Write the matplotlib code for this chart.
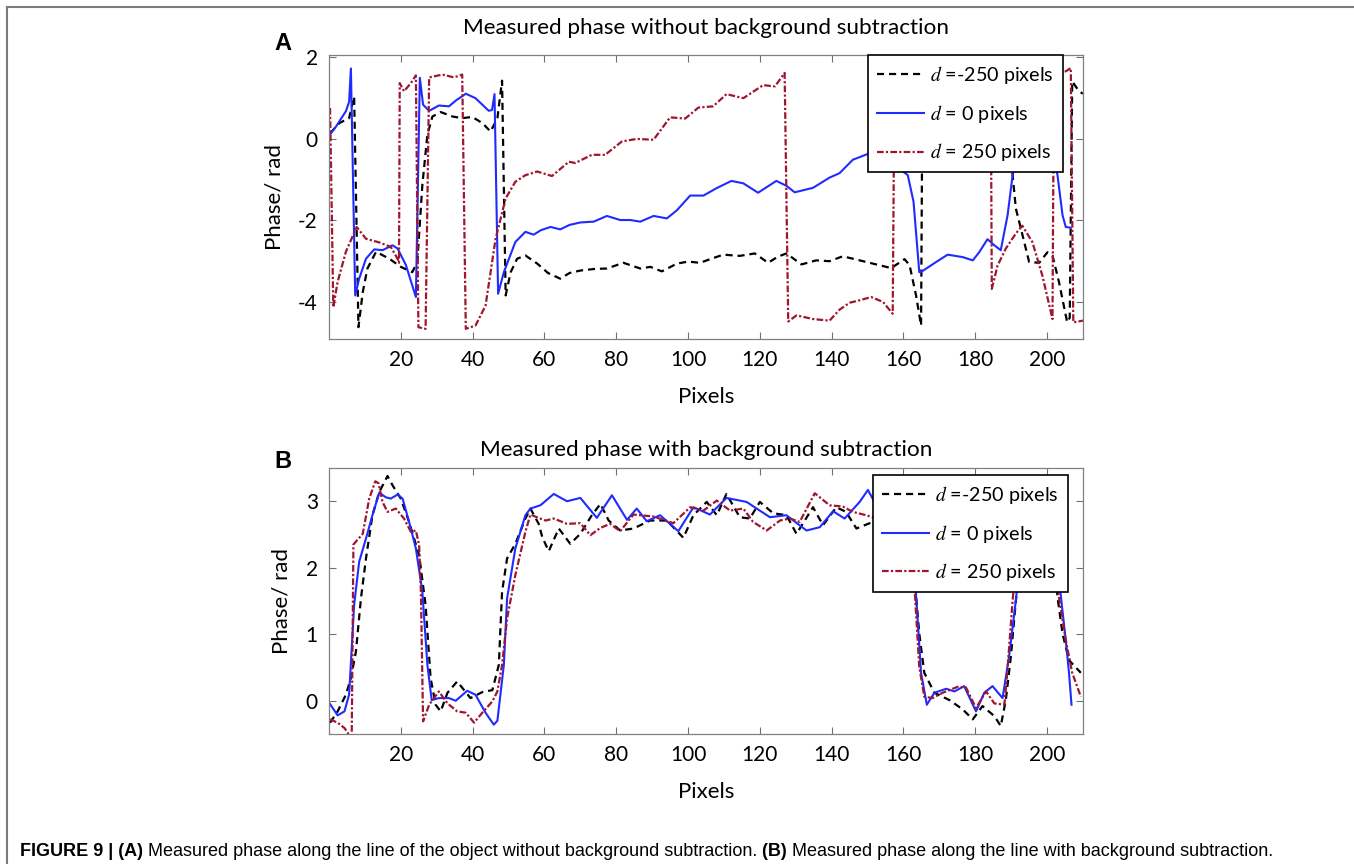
import numpy as np
import matplotlib.pyplot as plt
from matplotlib.lines import Line2D
from matplotlib import font_manager

plt.rcParams['font.family'] = ['Lato', 'DejaVu Sans']
plt.rcParams['mathtext.fontset'] = 'stix'
plt.rcParams['axes.unicode_minus'] = False

# ---- panel A: phase without background subtraction (pixel, rad) ----
a_m250 = [(0.3, 0.13), (2.9, 0.38), (5.6, 0.5), (7.0, 1.03), (8.2, -4.63), (9.4, -3.77),
          (10.7, -3.19), (13.1, -2.78), (16.8, -2.95), (20.0, -3.15), (23.2, -3.28),
          (24.6, -3.03), (26.0, -1.14), (27.4, 0.09), (28.8, 0.54), (31.1, 0.65),
          (34.4, 0.54), (37.1, 0.5), (39.9, 0.53), (42.7, 0.38), (45.0, 0.17), (46.9, 0.5),
          (48.2, 1.42), (49.2, -3.85), (50.6, -3.28), (52.4, -2.95), (54.7, -2.87),
          (58, -3.07), (61, -3.3), (64.4, -3.44), (67, -3.3), (70, -3.24), (74, -3.2),
          (77.4, -3.19), (82, -3.05), (86.7, -3.19), (89.5, -3.15), (92.7, -3.26),
          (96.9, -3.07), (100, -3.02), (103.3, -3.05), (106.5, -2.95), (109.8, -2.85),
          (114.4, -2.88), (118.6, -2.82), (122.3, -3.05), (125, -2.9), (127.4, -2.82),
          (131.6, -3.09), (135.7, -2.99), (139.4, -3.01), (143.1, -2.89), (147.8, -2.99),
          (151.5, -3.07), (156.6, -3.18), (160.3, -2.96), (161.7, -3.11), (163.5, -3.85),
          (164.9, -4.59), (165.3, 1.6), (167, 0.8), (172, 0.6), (178, 0.5), (184, 0.4),
          (188, 0.2), (189.5, -0.4), (190.4, -0.9), (191.3, -1.72), (192.7, -2.21),
          (195, -3.03), (197.8, -3.05), (200.1, -2.79), (201.5, -2.87), (203.3, -3.52),
          (205.6, -4.51), (206.3, -4.4), (207, 1.40), (208.9, 1.16), (210, 1.1)]

a_0 = [(0.3, 0.1), (2, 0.3), (4.7, 0.67), (5.6, 0.9), (6.1, 1.72), (7.3, -3.85), (8.4, -3.44),
       (10.3, -2.95), (12.6, -2.72), (14.9, -2.74), (17.7, -2.62), (19.1, -2.70), (21.4, -3.1),
       (24.2, -3.89), (25.3, 1.49), (26.2, 0.83), (27.9, 0.68), (30.6, 0.81), (33.4, 0.79),
       (35.3, 0.93), (38.1, 1.1), (40.8, 0.99), (44.5, 0.68), (45.4, 0.7), (46.1, 1.09),
       (47.1, -3.81), (48.7, -3.28), (51.9, -2.54), (54.7, -2.29), (57.0, -2.36), (59, -2.25),
       (61.7, -2.17), (64.4, -2.23), (67, -2.12), (70, -2.06), (73.7, -2.04), (77.4, -1.90),
       (81.1, -2.0), (83.9, -2.0), (86.7, -2.04), (90.4, -1.90), (94.1, -1.96), (96.9, -1.76),
       (100.6, -1.40), (104.3, -1.40), (107.9, -1.22), (112.1, -1.04), (115.4, -1.10),
       (119.5, -1.33), (124.6, -1.04), (127.4, -1.16), (129.7, -1.32), (134.8, -1.21),
       (139.4, -0.96), (142.2, -0.85), (145.9, -0.52), (150.6, -0.36), (153.3, -0.49),
       (156, -0.6), (159, -0.75), (161.2, -0.90), (162.8, -1.55), (164.4, -3.28),
       (164.8, -3.28), (169.1, -3.03), (172.3, -2.85), (176.5, -2.91), (179.3, -2.99),
       (181.1, -2.79), (183.4, -2.47), (185.3, -2.62), (187.1, -2.74), (189, -1.88),
       (190.4, -0.90), (192, -0.3), (195, 0.3), (198, 0.4), (201, 0.0), (202.9, -0.9),
       (204.3, -1.88), (205.2, -2.17), (206.6, -2.19)]

a_250 = [(0.3, 0.75), (1.2, -4.14), (2.4, -3.52), (4.7, -2.78), (7.7, -2.17), (10.3, -2.46),
         (14.0, -2.55), (17.2, -2.66), (19.1, -2.95), (19.5, -3.05), (19.7, 1.36), (20.9, 1.16),
         (22.8, 1.36), (24.2, 1.55), (24.9, -4.63), (26.9, -4.67), (27.9, 1.5), (31.6, 1.57),
         (34.8, 1.50), (37.1, 1.57), (38.1, -4.67), (40.8, -4.59), (43.6, -4.10), (46.4, -2.46),
         (49.2, -1.47), (51.9, -1.06), (54.7, -0.9), (58, -0.81), (62.1, -0.92), (66.8, -0.57),
         (68.6, -0.6), (73.2, -0.40), (76.9, -0.4), (81.6, -0.07), (85.7, -0.01), (90.4, -0.03),
         (95, 0.52), (99.2, 0.49), (102.9, 0.76), (107, 0.79), (110.7, 1.09), (115.4, 0.99),
         (120.9, 1.31), (124.2, 1.28), (126.9, 1.61), (127.9, -4.49), (130.2, -4.34),
         (134.8, -4.43), (139.4, -4.47), (142.2, -4.2), (145, -4.03), (147.8, -3.97),
         (151, -3.89), (154.3, -4.01), (157.0, -4.3), (157.5, 1.6), (160, 1.2), (166, 0.6),
         (172, 0.3), (178, 0.1), (183, 0.0), (184.4, -0.2), (184.6, -3.69), (186.2, -3.12),
         (188.5, -2.70), (191.3, -2.33), (193.1, -2.14), (195.9, -2.54), (198.7, -3.37),
         (201.5, -4.43), (201.9, 1.6), (205.2, 1.65), (206.6, 1.73), (207.3, -4.51), (210, -4.47)]

# ---- panel B: phase with background subtraction ----
b_m250 = [(0.3, -0.33), (2.4, -0.16), (4.7, 0.09), (6.1, 0.34), (7.5, 0.74), (8.9, 1.54),
          (10.3, 2.14), (12.1, 2.79), (14.0, 3.14), (16.3, 3.38), (17.7, 3.24), (20, 3.04),
          (22.3, 2.69), (25.1, 2.19), (26.9, 1.44), (28.3, 0.34), (29.7, -0.06), (31.1, -0.16),
          (33, 0.12), (35.7, 0.29), (39.4, 0.04), (42.7, 0.13), (45.5, 0.16), (47.3, 0.54),
          (48.2, 1.64), (49.6, 2.14), (51.9, 2.36), (54.7, 2.74), (56.1, 2.89), (58.4, 2.66),
          (59.4, 2.46), (61.2, 2.25), (64, 2.59), (67.2, 2.36), (70, 2.51), (73.2, 2.79),
          (75.6, 2.96), (77.9, 2.71), (81.1, 2.56), (84.8, 2.59), (89.4, 2.71), (94.1, 2.71),
          (98.7, 2.45), (101.5, 2.79), (105.2, 2.99), (108, 2.79), (110.7, 3.11), (114.4, 2.76),
          (117.2, 2.74), (120, 2.99), (123.7, 2.82), (127.4, 2.79), (130.2, 2.51), (134.8, 2.91),
          (137.6, 2.64), (141.3, 2.91), (144, 2.84), (146.9, 2.59), (151.5, 2.69), (155, 2.8),
          (158, 2.75), (161, 2.5), (163, 1.9), (164.4, 1.01), (165.8, 0.42), (168.6, 0.12),
          (172.8, 0.01), (176.5, -0.13), (179.3, -0.28), (182, -0.08), (185.3, -0.23),
          (187.1, -0.38), (188.5, 0.01), (189.9, 0.66), (191.3, 1.5), (193, 2.4), (196, 2.8),
          (200, 2.8), (202, 2.2), (202.9, 1.56), (204.3, 1.01), (206.1, 0.61), (209.4, 0.42)]

b_0 = [(0.3, -0.05), (2.4, -0.22), (4.3, -0.16), (5.6, 0.09), (7.0, 1.44), (8.4, 2.09),
       (10.3, 2.44), (12.1, 2.79), (14, 3.13), (15.8, 3.06), (17.2, 3.04), (19.1, 3.10),
       (20.5, 3.04), (22.3, 2.69), (24.2, 2.29), (26, 1.64), (27.4, 0.54), (28.6, 0.01),
       (30.6, 0.04), (33.4, 0.04), (35.3, 0.0), (38.5, 0.15), (40.8, 0.09), (43.6, -0.18),
       (45.9, -0.36), (46.9, -0.3), (48.7, 0.54), (49.6, 1.54), (51.9, 2.29), (54.7, 2.79),
       (56.1, 2.89), (58.9, 2.94), (62.6, 3.11), (66.3, 3.0), (70, 3.05), (74.6, 2.75),
       (78.8, 3.09), (83, 2.72), (85.7, 2.89), (88.5, 2.70), (92.2, 2.79), (97.3, 2.55),
       (101.5, 2.91), (106.1, 2.80), (110.7, 3.05), (116.3, 2.99), (122.8, 2.76), (127.4, 2.79),
       (133, 2.56), (136.7, 2.61), (140.4, 2.85), (143.6, 2.74), (147.8, 2.99), (150.1, 3.17),
       (152.4, 2.94), (155, 2.9), (158, 2.8), (161, 2.6), (162.5, 2.2), (163.5, 1.59),
       (164.9, 0.42), (166.5, -0.06), (168.6, 0.12), (171.9, 0.18), (174.2, 0.14),
       (176.9, 0.22), (180.2, -0.16), (182.5, 0.12), (184.8, 0.22), (187.6, 0.04),
       (189.4, 0.66), (191.3, 1.51), (193, 2.4), (196, 2.85), (200, 2.85), (202.5, 2.3),
       (203.8, 1.59), (205.2, 0.91), (206.1, 0.42), (206.8, -0.06)]

b_250 = [(0.3, -0.28), (2.4, -0.33), (4.3, -0.41), (5.2, -0.48), (6.3, -0.7), (6.8, 2.35),
         (9.4, 2.51), (11.2, 3.04), (12.9, 3.30), (13.8, 3.27), (14.9, 2.99), (16.3, 2.84),
         (18.6, 2.89), (20.9, 2.74), (22.8, 2.54), (24.2, 2.56), (25.1, 2.34), (25.6, 1.64),
         (26.2, -0.31), (27.9, -0.06), (30.6, 0.14), (33, -0.04), (35.7, -0.16), (38.1, -0.18),
         (40.4, -0.33), (42.7, -0.18), (45.5, -0.01), (46.9, 0.14), (48.2, 0.54), (49.6, 1.24),
         (51.9, 1.89), (54.7, 2.54), (56.1, 2.80), (57.9, 2.76), (60.3, 2.71), (62.6, 2.74),
         (66.3, 2.66), (70, 2.67), (72.8, 2.49), (75.6, 2.60), (78.3, 2.66), (81.1, 2.55),
         (84.8, 2.80), (90.4, 2.77), (95.9, 2.67), (100.6, 2.91), (104.3, 2.86), (108, 3.01),
         (111.7, 2.86), (115.4, 2.89), (118.1, 2.69), (121.9, 2.56), (125.6, 2.71),
         (128.3, 2.74), (131.1, 2.69), (135.3, 3.12), (139.4, 2.94), (143.1, 2.92),
         (145.9, 2.84), (149.6, 2.79), (152.4, 2.74), (156, 2.75), (160, 2.7), (162, 2.4),
         (163.2, 1.59), (164.4, 0.51), (165.8, 0.06), (168.1, 0.04), (170.9, 0.12),
         (175.1, 0.21), (177.4, 0.2), (180.2, -0.11), (183, 0.14), (185.3, -0.04),
         (188.1, -0.06), (188.9, 0.42), (190.4, 1.51), (192, 2.4), (196, 2.8), (200, 2.8),
         (202, 2.3), (203.3, 1.56), (205.2, 0.91), (207, 0.42), (209.4, 0.06)]

labels = [r'$d$ =-250 pixels', r'$d$ = 0 pixels', r'$d$ = 250 pixels']
titles = ['Measured phase without background subtraction',
          'Measured phase with background subtraction']
x_ticks = [20, 40, 60, 80, 100, 120, 140, 160, 180, 200]

W, H = 1354, 864
fig = plt.figure(figsize=(W / 100, H / 100), dpi=100)
axA = fig.add_axes([329 / W, 1 - 339 / H, 754 / W, 284 / H])
axB = fig.add_axes([329 / W, 1 - 734 / H, 754 / W, 266 / H])

styles = [dict(color='black', ls=(0, (3.2, 2.2)), lw=1.6),
          dict(color='#1f2bff', ls='-', lw=1.5),
          dict(color='#a01530', ls=(0, (3.0, 1.0, 1.0, 1.0)), lw=1.6)]


def draw(ax, series, ylim, yticks, title, title_pad, leg_anchor):
    for pts, st, lab in zip(series, styles, labels):
        xy = np.array(pts)
        ax.plot(xy[:, 0], xy[:, 1], label=lab, **st)
    ax.set_xlim(0, 210)
    ax.set_ylim(*ylim)
    ax.set_xticks(x_ticks)
    ax.set_yticks(yticks)
    ax.tick_params(direction='in', top=True, right=True, length=5, width=0.8,
                   color='#707070', labelsize=15, pad=8)
    for s in ax.spines.values():
        s.set_color('#808080')
        s.set_linewidth(0.9)
    ax.set_title(title, fontsize=16.2, pad=title_pad)
    ax.set_xlabel('Pixels', fontsize=16, labelpad=12)
    ax.set_ylabel('Phase/ rad', fontsize=16, labelpad=10)
    leg = ax.legend(loc='upper right', bbox_to_anchor=leg_anchor, borderaxespad=0,
                    fontsize=14.2, handlelength=2.4, labelspacing=0.85, handletextpad=0.3,
                    borderpad=0.45, fancybox=False, framealpha=1, edgecolor='black')
    leg.get_frame().set_linewidth(1.2)


draw(axA, [a_m250, a_0, a_250], (-4.92, 2.05), [-4, -2, 0, 2], titles[0], 15, (0.973, 1.0))
draw(axB, [b_m250, b_0, b_250], (-0.5, 3.5), [0, 1, 2, 3], titles[1], 9, (0.980, 0.974))

fig.text(283 / W, 1 - 43 / H, 'A', fontsize=17, fontweight='bold', family='Liberation Sans',
         ha='center', va='center')
fig.text(283 / W, 1 - 462 / H, 'B', fontsize=17, fontweight='bold', family='Liberation Sans',
         ha='center', va='center')

# frame around the figure
fig.add_artist(Line2D([6.5 / W, 6.5 / W], [0, 1 - 6.5 / H], transform=fig.transFigure,
                      color='#7a7a7a', lw=1.5))
fig.add_artist(Line2D([6.5 / W, 1], [1 - 6.5 / H, 1 - 6.5 / H], transform=fig.transFigure,
                      color='#7a7a7a', lw=1.5))

# caption, bold and regular runs, fitted to the reference width
cap_family = 'Liberation Sans'
try:
    font_manager.findfont('Liberation Sans Narrow', fallback_to_default=False)
    cap_family = 'Liberation Sans Narrow'
except Exception:
    pass

caption = [('FIGURE 9 | (A)', 'bold'),
           (' Measured phase along the line of the object without background subtraction.', 'normal'),
           (' (B)', 'bold'),
           (' Measured phase along the line with background subtraction.', 'normal')]
renderer = fig.canvas.get_renderer()


def put_caption(size):
    x = 20 / W
    arts = []
    for txt, wt in caption:
        t = fig.text(x, 1 - 851 / H, txt, fontsize=size, fontweight=wt, family=cap_family,
                     va='center', ha='left')
        arts.append(t)
        x = t.get_window_extent(renderer).x1 / fig.bbox.width
    return arts, x * W


arts, right = put_caption(11.5)
size = 11.5 * (1278 - 20) / (right - 20)
for a in arts:
    a.remove()
put_caption(size)

fig.savefig('out.png', dpi=100)
